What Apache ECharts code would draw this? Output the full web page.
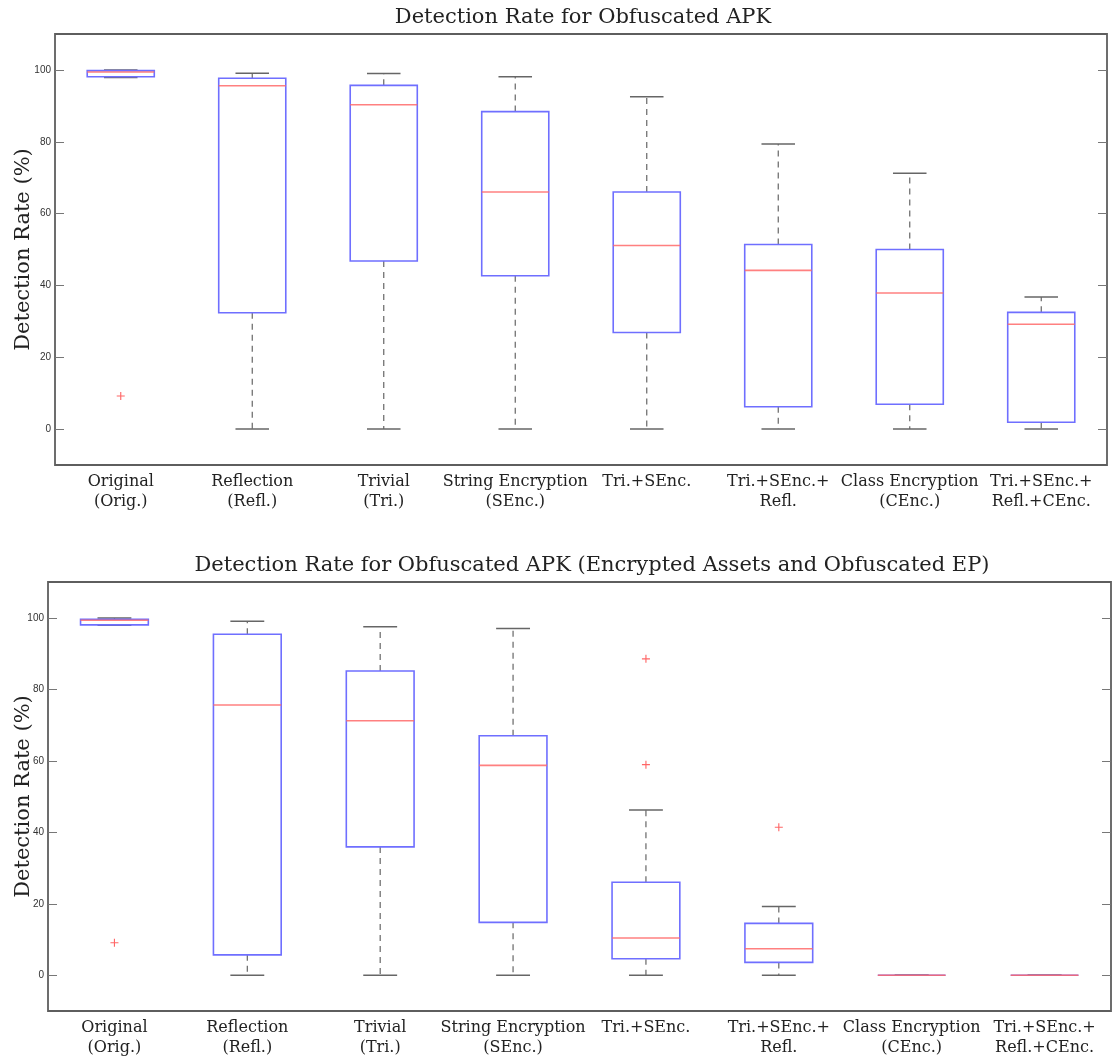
<!DOCTYPE html>
<html>
<head>
<meta charset="utf-8">
<script src="https://cdn.jsdelivr.net/npm/echarts@6/dist/echarts.min.js"></script>
<style>
  html, body { margin: 0; padding: 0; background: #ffffff; }
  #chart { width: 1115px; height: 1059px; }
</style>
</head>
<body>
<div id="chart"></div>
<script>
// ---- Data ----
const categories = [
  "Original\n(Orig.)", "Reflection\n(Refl.)", "Trivial\n(Tri.)", "String Encryption\n(SEnc.)",
  "Tri.+SEnc.", "Tri.+SEnc.+\nRefl.", "Class Encryption\n(CEnc.)", "Tri.+SEnc.+\nRefl.+CEnc."
];
const yTicks = [0, 20, 40, 60, 80, 100];

const titleTop = "Detection Rate for Obfuscated APK";
const titleBottom = "Detection Rate for Obfuscated APK (Encrypted Assets and Obfuscated EP)";
const yAxisName = "Detection Rate (%)";

// Top panel: whisker min, Q1, median, Q3, whisker max
const topMin = [97.9, 0, 0, 0, 0, 0, 0, 0];
const topQ1  = [98.1, 32.4, 46.8, 42.7, 26.9, 6.2, 6.9, 1.9];
const topMed = [99.4, 95.6, 90.3, 66.0, 51.1, 44.2, 37.9, 29.2];
const topQ3  = [99.8, 97.7, 95.7, 88.4, 66.0, 51.4, 50.0, 32.5];
const topMax = [100, 99.1, 99.0, 98.1, 92.5, 79.4, 71.2, 36.8];
const topOutliers = [[0, 9.2]];

// Bottom panel
const botMin = [97.9, 0, 0, 0, 0, 0, 0, 0];
const botQ1  = [98.0, 5.7, 35.9, 14.8, 4.6, 3.6, 0, 0];
const botMed = [99.3, 75.6, 71.2, 58.7, 10.4, 7.4, 0, 0];
const botQ3  = [99.6, 95.4, 85.1, 67.0, 26.0, 14.5, 0, 0];
const botMax = [99.9, 99.0, 97.5, 97.0, 46.2, 19.2, 0, 0];
const botOutliers = [[0, 9.1], [4, 88.5], [4, 58.9], [5, 41.4]];

// ---- Build ----
function boxRows(mn, q1, md, q3, mx) {
  return categories.map((c, i) => [i, mn[i], q1[i], md[i], q3[i], mx[i]]);
}

const BOX_COLOR = '#6f6fff';
const MED_COLOR = '#ff6a6a';
const WHISK_COLOR = '#666666';

function renderBox(params, api) {
  const i = api.value(0);
  const lo = api.coord([i, api.value(1)]);
  const q1 = api.coord([i, api.value(2)]);
  const md = api.coord([i, api.value(3)]);
  const q3 = api.coord([i, api.value(4)]);
  const hi = api.coord([i, api.value(5)]);
  const band = api.size([1, 0])[0];
  const bw = band * 0.51;
  const cx = lo[0];
  const dash = { stroke: WHISK_COLOR, lineWidth: 1.2, lineDash: [6, 5] };
  const solid = { stroke: WHISK_COLOR, lineWidth: 1.5 };
  const children = [];
  if (hi[1] < q3[1] - 0.5) children.push({ type: 'line', shape: { x1: cx, y1: q3[1], x2: cx, y2: hi[1] }, style: dash });
  if (lo[1] > q1[1] + 0.5) children.push({ type: 'line', shape: { x1: cx, y1: q1[1], x2: cx, y2: lo[1] }, style: dash });
  children.push({ type: 'line', shape: { x1: cx - bw / 4, y1: hi[1], x2: cx + bw / 4, y2: hi[1] }, style: solid });
  children.push({ type: 'line', shape: { x1: cx - bw / 4, y1: lo[1], x2: cx + bw / 4, y2: lo[1] }, style: solid });
  children.push({ type: 'rect', shape: { x: cx - bw / 2, y: q3[1], width: bw, height: Math.max(q1[1] - q3[1], 0) },
    style: { fill: 'none', stroke: BOX_COLOR, lineWidth: 1.6 } });
  children.push({ type: 'line', shape: { x1: cx - bw / 2, y1: md[1], x2: cx + bw / 2, y2: md[1] },
    style: { stroke: MED_COLOR, lineWidth: 1.6, opacity: 0.85 } });
  return { type: 'group', children };
}

const serif = '"DejaVu Serif", "Liberation Serif", serif';
const sans = '"Liberation Sans", Arial, sans-serif';

const grids = [
  { left: 55, right: 8, top: 34, height: 431 },
  { left: 48, right: 4, top: 582, height: 429 }
];

const xAxes = grids.map((g, k) => ({
  type: 'category', gridIndex: k, data: categories, boundaryGap: true,
  axisLine: { show: false }, axisTick: { show: false },
  axisLabel: { interval: 0, fontFamily: serif, fontSize: 16, color: '#222', lineHeight: 20, margin: 7, hideOverlap: false }
}));

const yAxes = [];
grids.forEach((g, k) => {
  yAxes.push({
    type: 'value', gridIndex: k, position: 'left', min: -10, max: 110,
    name: yAxisName, nameLocation: 'middle', nameGap: k === 0 ? 21 : 14, nameMoveOverlap: false,
    nameTextStyle: { fontFamily: serif, fontSize: 21, color: '#222' },
    axisLine: { show: false }, splitLine: { show: false },
    axisTick: { show: true, inside: true, length: 9, customValues: yTicks, lineStyle: { color: '#777' } },
    axisLabel: { customValues: yTicks, fontFamily: sans, fontSize: 10, color: '#333', margin: 4 }
  });
  yAxes.push({
    type: 'value', gridIndex: k, position: 'right', min: -10, max: 110,
    axisLine: { show: false }, splitLine: { show: false },
    axisTick: { show: true, inside: true, length: 9, customValues: yTicks, lineStyle: { color: '#777' } },
    axisLabel: { show: false, customValues: yTicks }
  });
});

const plusSymbol = 'path://M0,4.3H10V5.7H0ZM4.3,0H5.7V10H4.3Z';

const option = {
  animation: false,
  backgroundColor: '#ffffff',
  title: [
    { text: titleTop, left: 578, top: 2, textAlign: 'center',
      textStyle: { fontFamily: serif, fontSize: 21, fontWeight: 'normal', color: '#222' } },
    { text: titleBottom, left: 587, top: 550, textAlign: 'center',
      textStyle: { fontFamily: serif, fontSize: 21, fontWeight: 'normal', color: '#222' } }
  ],
  grid: grids.map(g => Object.assign({ show: true, borderColor: '#5e5e5e', borderWidth: 1.8,
    backgroundColor: 'transparent', outerBoundsMode: 'none', containLabel: false }, g)),
  xAxis: xAxes,
  yAxis: yAxes,
  series: [
    { type: 'custom', xAxisIndex: 0, yAxisIndex: 0, renderItem: renderBox,
      encode: { x: 0, y: [1, 2, 3, 4, 5] }, data: boxRows(topMin, topQ1, topMed, topQ3, topMax) },
    { type: 'scatter', xAxisIndex: 0, yAxisIndex: 0, symbol: plusSymbol, symbolSize: 8,
      itemStyle: { color: '#ff4040' }, data: topOutliers },
    { type: 'custom', xAxisIndex: 1, yAxisIndex: 2, renderItem: renderBox,
      encode: { x: 0, y: [1, 2, 3, 4, 5] }, data: boxRows(botMin, botQ1, botMed, botQ3, botMax) },
    { type: 'scatter', xAxisIndex: 1, yAxisIndex: 2, symbol: plusSymbol, symbolSize: 8,
      itemStyle: { color: '#ff4040' }, data: botOutliers }
  ]
};

const chart = echarts.init(document.getElementById('chart'), null, { renderer: 'canvas' });
chart.setOption(option);
</script>
</body>
</html>
